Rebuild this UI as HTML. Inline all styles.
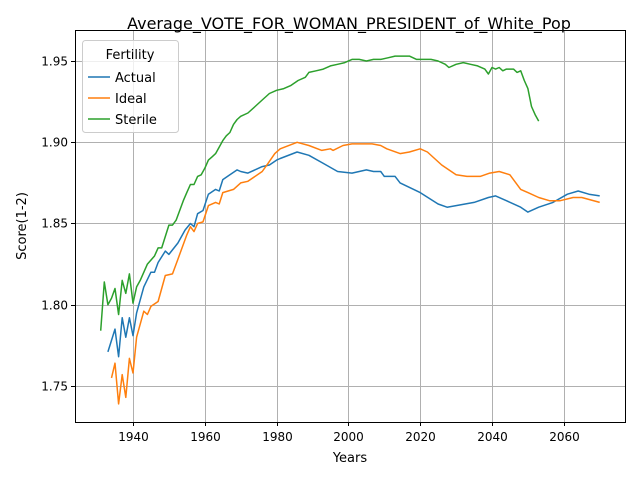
<!DOCTYPE html>
<html><head><meta charset="utf-8"><style>
body{margin:0;background:#fff;font-family:"Liberation Sans","DejaVu Sans",sans-serif}
svg text{font-family:"DejaVu Sans","Liberation Sans",sans-serif}
</style></head><body>
<svg id="chart" width="640" height="480" xmlns="http://www.w3.org/2000/svg">
<rect width="640" height="480" fill="#fff"/>
<g id="grid"></g>
<g id="series"></g>
<rect x="75.5" y="30.5" width="550" height="392" fill="none" stroke="#000" stroke-width="1"/>
<g id="axes"></g>
<text x="349" y="29" text-anchor="middle" font-size="16">Average_VOTE_FOR_WOMAN_PRESIDENT_of_White_Pop</text>
<text x="350" y="462" text-anchor="middle" font-size="13">Years</text>
<text x="26" y="226" text-anchor="middle" font-size="13" transform="rotate(-90 26 226)">Score(1-2)</text>
<g>
<rect x="82.5" y="40.5" width="96" height="92" rx="3" fill="#fff" fill-opacity="0.8" stroke="#ccc"/>
<text x="130" y="59" text-anchor="middle" font-size="13">Fertility</text>
<g id="legend-items"></g>
</g>
</svg>
<script>
const xTicks=[1940,1960,1980,2000,2020,2040,2060];
const yTicks=[1.75,1.80,1.85,1.90,1.95];
const actualYears=[1933,1935,1936,1937,1938,1939,1940,1941,1943,1945,1946,1947,1949,1950,1952.5,1954.5,1956,1957,1958,1959.5,1961,1963,1964,1965,1967,1969,1970,1972,1976,1978,1980,1981,1985.7,1989,1993,1997,2001,2003,2005,2007,2009,2010,2013,2014.4,2020,2025,2027.5,2030,2035,2039,2041,2044,2048,2050,2053,2057,2061,2064,2067,2070];
const actualValues=[1.771,1.785,1.768,1.792,1.780,1.792,1.781,1.795,1.811,1.820,1.820,1.826,1.833,1.831,1.838,1.846,1.850,1.848,1.856,1.858,1.868,1.871,1.870,1.877,1.880,1.883,1.882,1.881,1.885,1.886,1.889,1.890,1.894,1.892,1.887,1.882,1.881,1.882,1.883,1.882,1.882,1.879,1.879,1.875,1.869,1.862,1.860,1.861,1.863,1.866,1.867,1.864,1.860,1.857,1.860,1.863,1.868,1.870,1.868,1.867];
const idealYears=[1934,1935,1936,1937,1938,1939,1940,1941,1943,1944,1945,1947,1949,1951,1952.5,1955,1956,1957,1958,1959.5,1961,1963,1964,1965,1968,1970,1972,1976,1977.6,1979.5,1981,1985.7,1989,1992.6,1995,1995.7,1998.5,2001,2003,2006.6,2009,2010.7,2014.4,2017,2020,2022,2026,2030,2033,2036.7,2039.4,2042,2045,2048,2050,2053,2056,2059,2062.6,2065,2070];
const idealValues=[1.755,1.764,1.739,1.757,1.743,1.767,1.758,1.780,1.796,1.794,1.799,1.802,1.818,1.819,1.828,1.843,1.848,1.845,1.850,1.851,1.861,1.863,1.862,1.869,1.871,1.875,1.876,1.882,1.887,1.893,1.896,1.900,1.898,1.895,1.896,1.895,1.898,1.899,1.899,1.899,1.898,1.896,1.893,1.894,1.896,1.894,1.886,1.880,1.879,1.879,1.881,1.882,1.880,1.871,1.869,1.866,1.864,1.864,1.866,1.866,1.863];
const sterileYears=[1931,1932,1933,1934,1935,1936,1937,1938,1939,1940,1941,1942,1944,1946,1947,1948,1949,1950,1951,1952,1953,1954,1955,1956,1957,1958,1959,1960,1961,1962,1963,1964,1965,1966,1967,1968,1969,1970,1972,1974,1976,1978,1980,1982,1984,1986,1988,1989,1991,1993,1995,1997,1999,2001,2003,2005,2007,2009,2011,2013,2015,2017,2019,2021,2023,2025,2027,2028,2030,2032,2034,2036,2038,2039,2040,2041,2042,2043,2044,2046,2047,2048,2049,2050,2051,2052,2053];
const sterileValues=[1.784,1.814,1.800,1.804,1.810,1.794,1.815,1.807,1.819,1.801,1.811,1.815,1.825,1.830,1.835,1.835,1.842,1.849,1.849,1.852,1.858,1.864,1.869,1.874,1.874,1.879,1.880,1.884,1.889,1.891,1.893,1.897,1.901,1.904,1.906,1.911,1.914,1.916,1.918,1.922,1.926,1.930,1.932,1.933,1.935,1.938,1.940,1.943,1.944,1.945,1.947,1.948,1.949,1.951,1.951,1.950,1.951,1.951,1.952,1.953,1.953,1.953,1.951,1.951,1.951,1.950,1.948,1.946,1.948,1.949,1.948,1.947,1.945,1.942,1.946,1.945,1.946,1.944,1.945,1.945,1.943,1.944,1.938,1.933,1.922,1.917,1.913];
const seriesNames=["Actual","Ideal","Sterile"];
const colors=["#1f77b4","#ff7f0e","#2ca02c"];
const xs=y=>133+(y-1940)*3.59;
const ys=v=>61+(1.95-v)*1625;
const NS="http://www.w3.org/2000/svg";
function mk(tag,attrs,parent){const e=document.createElementNS(NS,tag);for(const k in attrs)e.setAttribute(k,attrs[k]);parent.appendChild(e);return e;}
const grid=document.getElementById('grid'),axes=document.getElementById('axes');
xTicks.forEach(t=>{const x=Math.round(xs(t))+0.5;
 const g=mk('line',{x1:x,x2:x,y1:30,y2:422,stroke:'#b0b0b0','stroke-width':1},grid);
 
 const tk=mk('line',{x1:x,x2:x,y1:422,y2:426,stroke:'#000'},axes);
 
 const l=mk('text',{x:x,y:441,'text-anchor':'middle','font-size':12},axes);l.textContent=t;
 });
yTicks.forEach(t=>{const y=Math.round(ys(t))+0.5;
 const g=mk('line',{x1:75,x2:625,y1:y,y2:y,stroke:'#b0b0b0','stroke-width':1},grid);
 
 const tk=mk('line',{x1:71,x2:75,y1:y,y2:y,stroke:'#000'},axes);
 
 const l=mk('text',{x:68,y:y+4,'text-anchor':'end','font-size':12},axes);l.textContent=t.toFixed(2);
 });
const data=[[actualYears,actualValues],[idealYears,idealValues],[sterileYears,sterileValues]];
const sg=document.getElementById('series');
data.forEach((d,i)=>{const pts=d[0].map((yr,j)=>xs(yr).toFixed(1)+','+ys(d[1][j]).toFixed(1)).join(' ');
 const p=mk('polyline',{points:pts,fill:'none',stroke:colors[i],'stroke-width':1.5,'stroke-linejoin':'round'},sg);
 });
const li=document.getElementById('legend-items');
seriesNames.forEach((n,i)=>{const y=77+i*21;
 const l=mk('line',{x1:88,x2:110,y1:y,y2:y,stroke:colors[i],'stroke-width':1.5},li);
 
 const t=mk('text',{x:115,y:y+5,'font-size':13},li);t.textContent=n;
 });
</script>
</body></html>
